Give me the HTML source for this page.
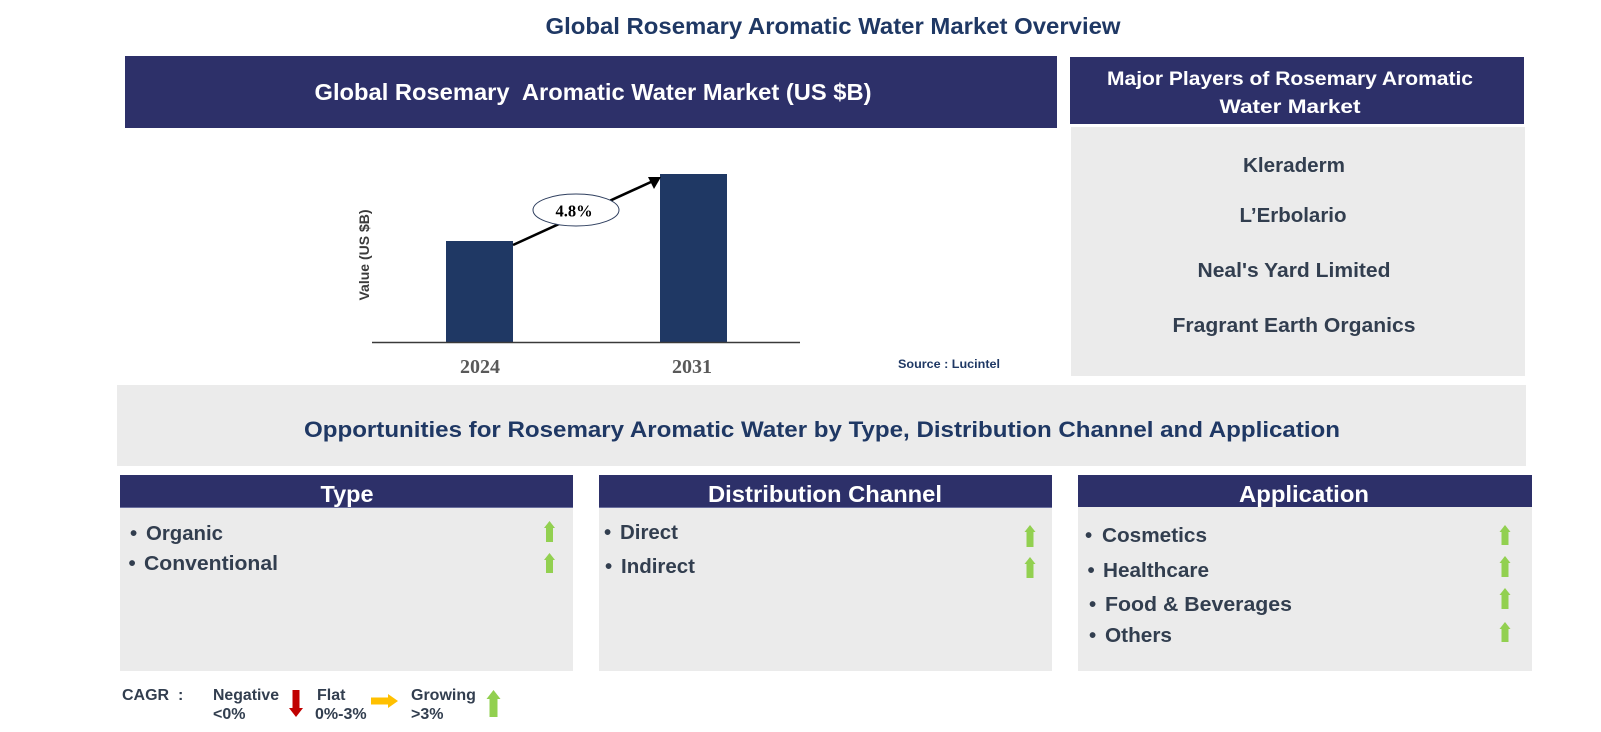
<!DOCTYPE html>
<html><head><meta charset="utf-8"><style>
html,body{margin:0;padding:0;background:#fff;}
svg{display:block;}
text{font-family:"Liberation Sans",Arial,sans-serif;font-weight:bold;}
.serif{font-family:"Liberation Serif","Times New Roman",serif;}
</style></head><body>
<svg width="1601" height="732" viewBox="0 0 1601 732" xmlns="http://www.w3.org/2000/svg">
<rect x="0" y="0" width="1601" height="732" fill="#ffffff"/>
<!-- Title -->
<text x="833" y="34" font-size="23" fill="#1F3864" text-anchor="middle" textLength="575" lengthAdjust="spacingAndGlyphs">Global Rosemary Aromatic Water Market Overview</text>

<!-- Left header -->
<rect x="125" y="56" width="932" height="72" fill="#2D3069"/>
<text x="593" y="100" font-size="23.5" fill="#ffffff" text-anchor="middle" textLength="557" lengthAdjust="spacingAndGlyphs" xml:space="preserve">Global Rosemary  Aromatic Water Market (US $B)</text>

<!-- Right header -->
<rect x="1070" y="57" width="454" height="67" fill="#2D3069"/>
<text x="1290" y="85" font-size="19.5" fill="#ffffff" text-anchor="middle" textLength="366" lengthAdjust="spacingAndGlyphs">Major Players of Rosemary Aromatic</text>
<text x="1290" y="113" font-size="19.5" fill="#ffffff" text-anchor="middle" textLength="141" lengthAdjust="spacingAndGlyphs">Water Market</text>
<rect x="1071" y="127" width="454" height="249" fill="#EBEBEB"/>
<g fill="#323E4F" font-size="20" text-anchor="middle">
<text x="1294" y="172" textLength="102" lengthAdjust="spacingAndGlyphs">Kleraderm</text>
<text x="1293" y="222" textLength="107" lengthAdjust="spacingAndGlyphs">L’Erbolario</text>
<text x="1294" y="277" textLength="193" lengthAdjust="spacingAndGlyphs">Neal's Yard Limited</text>
<text x="1294" y="332" textLength="243" lengthAdjust="spacingAndGlyphs">Fragrant Earth Organics</text>
</g>

<!-- Chart -->
<rect x="446" y="241" width="67" height="101" fill="#1F3864"/>
<rect x="660" y="174" width="67" height="168" fill="#1F3864"/>
<line x1="372" y1="342.5" x2="800" y2="342.5" stroke="#3a3a3a" stroke-width="1.5"/>
<line x1="513" y1="245" x2="652" y2="181.5" stroke="#000" stroke-width="2.6"/>
<polygon points="661,177 648,177 654,189" fill="#000"/>
<ellipse cx="576" cy="210" rx="43" ry="16" fill="#ffffff" stroke="#2F3F5F" stroke-width="1"/>
<text class="serif" x="574" y="216.5" font-size="16.5" fill="#000" text-anchor="middle">4.8%</text>
<text x="0" y="0" font-size="14" fill="#3b3b3b" text-anchor="middle" transform="translate(369,255) rotate(-90)">Value (US $B)</text>
<text class="serif" x="480" y="373" font-size="20" fill="#595959" text-anchor="middle">2024</text>
<text class="serif" x="692" y="373" font-size="20" fill="#595959" text-anchor="middle">2031</text>
<text x="898" y="368" font-size="12" fill="#1F3864" textLength="102" lengthAdjust="spacingAndGlyphs">Source : Lucintel</text>

<!-- Opportunities band -->
<rect x="117" y="385" width="1409" height="81" fill="#EBEBEB"/>
<text x="822" y="437" font-size="22.5" fill="#1F3864" text-anchor="middle" textLength="1036" lengthAdjust="spacingAndGlyphs">Opportunities for Rosemary Aromatic Water by Type, Distribution Channel and Application</text>

<!-- Type -->
<rect x="120" y="475" width="453" height="33" fill="#2D3069"/>
<line x1="120" y1="507.5" x2="573" y2="507.5" stroke="#6a6f9e" stroke-width="1"/>
<rect x="120" y="508" width="453" height="163" fill="#EBEBEB"/>
<text x="347" y="502" font-size="23" fill="#ffffff" text-anchor="middle" textLength="53" lengthAdjust="spacingAndGlyphs">Type</text>
<g fill="#323E4F" font-size="20.5">
<text x="130" y="540">•</text><text x="146" y="540" textLength="77" lengthAdjust="spacingAndGlyphs">Organic</text>
<text x="128.5" y="570">•</text><text x="144" y="570" textLength="134" lengthAdjust="spacingAndGlyphs">Conventional</text>
</g>

<!-- Distribution Channel -->
<rect x="599" y="475" width="453" height="33" fill="#2D3069"/>
<line x1="599" y1="507.5" x2="1052" y2="507.5" stroke="#6a6f9e" stroke-width="1"/>
<rect x="599" y="508" width="453" height="163" fill="#EBEBEB"/>
<text x="825" y="502" font-size="23" fill="#ffffff" text-anchor="middle" textLength="234" lengthAdjust="spacingAndGlyphs">Distribution Channel</text>
<g fill="#323E4F" font-size="20.5">
<text x="604" y="539">•</text><text x="620" y="539" textLength="58" lengthAdjust="spacingAndGlyphs">Direct</text>
<text x="605" y="573">•</text><text x="621" y="573" textLength="74" lengthAdjust="spacingAndGlyphs">Indirect</text>
</g>

<!-- Application -->
<rect x="1078" y="475" width="454" height="33" fill="#2D3069"/>
<rect x="1078" y="507" width="454" height="164" fill="#EBEBEB"/>
<text x="1304" y="502" font-size="23" fill="#ffffff" text-anchor="middle" textLength="130" lengthAdjust="spacingAndGlyphs">Application</text>
<g fill="#323E4F" font-size="20.5">
<text x="1085" y="542">•</text><text x="1102" y="542" textLength="105" lengthAdjust="spacingAndGlyphs">Cosmetics</text>
<text x="1087.5" y="577">•</text><text x="1103" y="577" textLength="106" lengthAdjust="spacingAndGlyphs">Healthcare</text>
<text x="1089" y="611">•</text><text x="1105" y="611" textLength="187" lengthAdjust="spacingAndGlyphs">Food &amp; Beverages</text>
<text x="1089" y="642">•</text><text x="1105" y="642" textLength="67" lengthAdjust="spacingAndGlyphs">Others</text>
</g>

<!-- green up arrows -->
<g fill="#92D050">
<polygon points="549.5,521 555,528 553,528 553,542 546,542 546,528 544,528"/>
<polygon points="549.5,553 555,560 553,560 553,573 546,573 546,560 544,560"/>
<polygon points="1030,525 1035.5,532 1033.5,532 1033.5,547 1026.5,547 1026.5,532 1024.5,532"/>
<polygon points="1030,557 1035.5,564 1033.5,564 1033.5,578 1026.5,578 1026.5,564 1024.5,564"/>
<polygon points="1505,525 1510.5,532 1508.5,532 1508.5,545 1501.5,545 1501.5,532 1499.5,532"/>
<polygon points="1505,556 1510.5,563 1508.5,563 1508.5,577 1501.5,577 1501.5,563 1499.5,563"/>
<polygon points="1505,588 1510.5,595 1508.5,595 1508.5,609 1501.5,609 1501.5,595 1499.5,595"/>
<polygon points="1505,622 1510.5,629 1508.5,629 1508.5,642 1501.5,642 1501.5,629 1499.5,629"/>
<polygon points="493.5,690 500.5,699 497.5,699 497.5,717 489.5,717 489.5,699 486.5,699"/>
</g>

<!-- Legend -->
<g fill="#323E4F" font-size="16">
<text x="122" y="700" xml:space="preserve">CAGR  :</text>
<text x="213" y="700" textLength="66" lengthAdjust="spacingAndGlyphs">Negative</text>
<text x="213" y="719">&lt;0%</text>
<text x="317" y="700">Flat</text>
<text x="315" y="719">0%-3%</text>
<text x="411" y="700">Growing</text>
<text x="411" y="719">&gt;3%</text>
</g>
<polygon points="289,708 292.5,708 292.5,690 299.5,690 299.5,708 303,708 296,717" fill="#C00000"/>
<polygon points="371,697.5 388,697.5 388,694 398,701 388,708 388,704.5 371,704.5" fill="#FFC000"/>
</svg>
</body></html>
